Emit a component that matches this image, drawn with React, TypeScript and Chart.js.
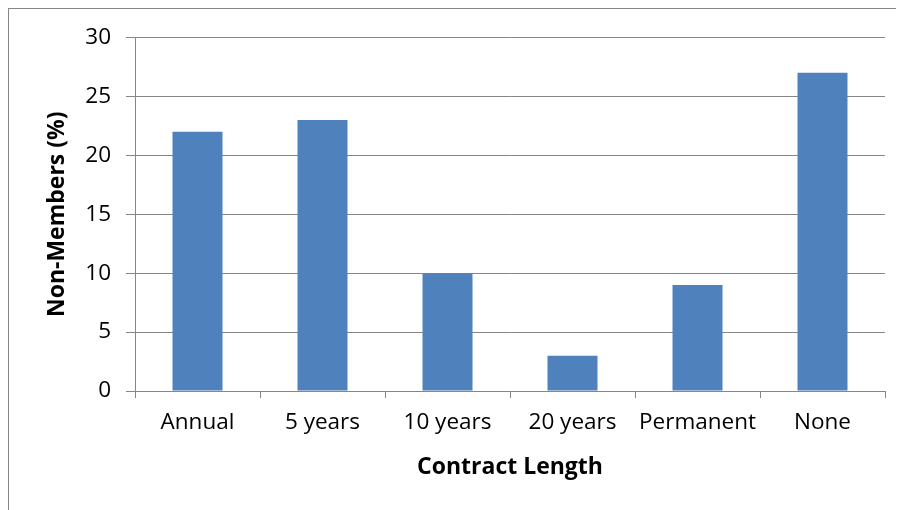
import React, { useEffect, useRef } from "react";
import { Chart, registerables } from "chart.js";

Chart.register(...registerables);

const categories = ["Annual", "5 years", "10 years", "20 years", "Permanent", "None"];
const nonMembers = [22, 23, 10, 3, 9, 27];
const yTicks = [0, 5, 10, 15, 20, 25, 30];

const FONT = "'Open Sans', sans-serif";
const GRID = "#868686";

export default function App() {
  const ref = useRef<HTMLCanvasElement | null>(null);
  useEffect(() => {
    if (!ref.current) return;
    const chart = new Chart(ref.current, {
      type: "bar",
      data: {
        labels: categories,
        datasets: [
          {
            label: "Non-Members (%)",
            data: nonMembers,
            backgroundColor: "#4F81BD",
            borderWidth: 0,
            categoryPercentage: 1,
            barPercentage: 0.4,
          },
        ],
      },
      options: {
        animation: false,
        responsive: false,
        maintainAspectRatio: false,
        layout: { padding: { left: 35, top: 28, right: 19, bottom: 29 } },
        plugins: { legend: { display: false }, tooltip: { enabled: false } },
        scales: {
          x: {
            offset: true,
            grid: {
              offset: true,
              drawOnChartArea: false,
              drawTicks: true,
              tickLength: 7,
              color: GRID,
              lineWidth: 1,
            },
            border: { display: true, color: GRID, width: 1 },
            ticks: { color: "#000", font: { family: FONT, size: 22.5 }, padding: 11, maxRotation: 0 },
            title: {
              display: true,
              text: "Contract Length",
              color: "#000",
              font: { family: FONT, size: 23, weight: "bold" },
              padding: 0,
            },
            afterFit: (s: any) => {
              s.height = 90;
            },
          },
          y: {
            min: 0,
            max: 30,
            afterBuildTicks: (s: any) => {
              s.ticks = yTicks.map((v) => ({ value: v }));
            },
            grid: { color: GRID, lineWidth: 1, tickLength: 9, drawTicks: true },
            border: { display: true, color: GRID, width: 1 },
            ticks: { color: "#000", font: { family: FONT, size: 22.5 }, padding: 15 },
            title: {
              display: true,
              text: "Non-Members (%)",
              color: "#000",
              font: { family: FONT, size: 23, weight: "bold" },
              padding: 0,
            },
            afterFit: (s: any) => {
              s.width = 91;
            },
          },
        },
      },
    });
    return () => chart.destroy();
  }, []);
  return (
    <div
      style={{
        width: 895,
        height: 501,
        borderLeft: `1px solid ${GRID}`,
        borderTop: `1px solid ${GRID}`,
        background: "#fff",
      }}
    >
      <canvas ref={ref} width={895} height={501} style={{ display: "block" }} />
    </div>
  );
}
